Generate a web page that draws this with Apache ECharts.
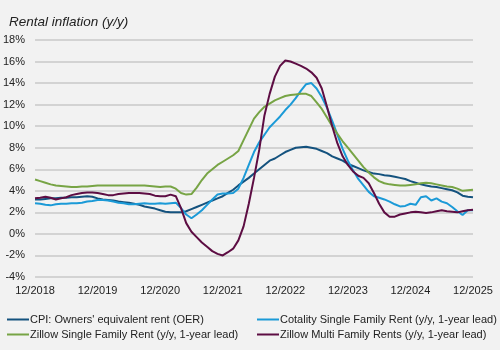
<!DOCTYPE html>
<html>
<head>
<meta charset="utf-8">
<script src="https://cdn.jsdelivr.net/npm/echarts@6/dist/echarts.min.js"></script>
<style>
html,body{margin:0;padding:0;background:#f2f2f2;}
#chart{width:500px;height:350px;}
</style>
</head>
<body>
<div id="chart"></div>
<script>
// Monthly, 12/2018 .. 12/2025
const startYear = 2018, startMonth = 12, nMonths = 85;
const tickLabels = ['12/2018','12/2019','12/2020','12/2021','12/2022','12/2023','12/2024','12/2025'];

const oer = [
 3.2,3.2,3.25,3.3,3.3,3.35,3.35,3.4,3.4,3.45,3.5,3.45,3.3,
 3.2,3.15,3.1,3.0,2.95,2.9,2.8,2.7,2.55,2.45,2.35,2.2,
 2.05,2.0,2.0,2.0,2.1,2.3,2.5,2.7,2.9,3.1,3.3,3.5,
 3.8,4.1,4.5,4.85,5.2,5.6,6.0,6.4,6.8,7.0,7.3,7.6,
 7.8,8.0,8.05,8.1,8.0,7.9,7.7,7.5,7.2,7.0,6.8,6.5,
 6.3,6.1,5.9,5.75,5.6,5.55,5.45,5.4,5.3,5.2,5.1,4.9,
 4.75,4.6,4.5,4.4,4.35,4.25,4.15,4.05,3.85,3.55,3.45,3.4
];
const cotality = [
 2.85,2.8,2.7,2.65,2.75,2.8,2.8,2.85,2.85,2.9,3.0,3.05,3.15,
 3.15,3.1,3.0,2.9,2.85,2.75,2.75,2.8,2.85,2.8,2.8,2.85,
 2.8,2.85,2.9,2.4,1.8,1.45,1.8,2.2,2.7,3.2,3.65,3.75,
 3.75,3.8,4.2,5.2,6.4,7.6,8.5,9.2,9.9,10.4,10.9,11.5,
 12.0,12.6,13.3,13.9,14.0,13.5,12.7,11.7,10.5,9.2,7.9,6.8,
 5.9,5.1,4.5,3.9,3.5,3.35,3.2,3.0,2.75,2.55,2.6,2.8,
 2.7,3.4,3.5,3.1,3.3,3.0,2.85,2.5,2.1,1.75,2.2,2.2
];
const zillowSF = [
 5.05,4.9,4.75,4.6,4.5,4.45,4.4,4.35,4.35,4.4,4.4,4.45,4.5,
 4.5,4.5,4.5,4.5,4.5,4.5,4.5,4.5,4.5,4.45,4.4,4.35,
 4.4,4.4,4.2,3.8,3.65,3.7,4.3,5.0,5.6,6.0,6.4,6.7,
 7.0,7.3,7.7,8.7,9.7,10.7,11.3,11.8,12.1,12.4,12.6,12.8,
 12.9,12.95,13.0,13.0,12.8,12.2,11.6,10.8,10.0,9.3,8.6,8.0,
 7.4,6.8,6.2,5.7,5.25,4.9,4.7,4.6,4.55,4.5,4.5,4.55,
 4.6,4.7,4.75,4.7,4.6,4.5,4.4,4.35,4.2,4.0,4.05,4.1
];
const zillowMF = [
 3.3,3.35,3.45,3.35,3.2,3.3,3.4,3.6,3.7,3.8,3.85,3.85,3.8,
 3.7,3.6,3.6,3.7,3.75,3.8,3.8,3.8,3.75,3.7,3.55,3.5,
 3.5,3.65,3.5,2.4,1.0,0.2,-0.3,-0.8,-1.2,-1.6,-1.85,-2.0,
 -1.7,-1.37,-0.6,0.7,2.8,5.2,7.8,11.0,13.0,14.6,15.6,16.1,
 16.0,15.8,15.6,15.35,15.0,14.5,13.5,11.8,10.0,8.4,7.2,6.4,
 5.8,5.4,5.2,4.7,3.8,2.8,2.0,1.6,1.6,1.8,1.9,2.0,
 2.05,2.0,1.95,2.0,2.1,2.2,2.1,2.05,2.0,2.1,2.2,2.25
];
const seriesNames = [
 "CPI: Owners' equivalent rent (OER)",
 "Cotality Single Family Rent (y/y, 1-year lead)",
 "Zillow Single Family Rent (y/y, 1-year lead)",
 "Zillow Multi Family Rents (y/y, 1-year lead)"
];
const colors = ['#14527e','#1b9ad7','#77a445','#5d0d43'];

const categories = [];
for (let i = 0; i < nMonths; i++) {
  const m = ((startMonth - 1 + i) % 12) + 1;
  const y = startYear + Math.floor((startMonth - 1 + i) / 12);
  categories.push(m + '/' + y);
}
const values = [oer, cotality, zillowSF, zillowMF];

const font = 'Liberation Sans, Arial, sans-serif';
const legendBase = {
  orient: 'vertical', top: 309, itemGap: 4,
  itemWidth: 22, itemHeight: 2, icon: 'rect',
  itemStyle: {borderWidth: 0},
  textStyle: {fontFamily: font, fontSize: 11, color: '#222', padding: [0,0,0,-4]}
};
const chart = echarts.init(document.getElementById('chart'), null, {renderer:'canvas'});
chart.setOption({
  backgroundColor: '#f2f2f2',
  animation: false,
  title: {
    text: 'Rental inflation (y/y)',
    left: 4, top: 10,
    textStyle: {fontFamily: font, fontSize: 13.5, fontStyle: 'italic', fontWeight: 'normal', color: '#222'}
  },
  grid: {left: 35, right: 27, top: 40, bottom: 73, containLabel: false},
  legend: [
    Object.assign({}, legendBase, {data: [seriesNames[0], seriesNames[2]], left: 2}),
    Object.assign({}, legendBase, {data: [seriesNames[1], seriesNames[3]], left: 252})
  ],
  xAxis: {
    type: 'category',
    data: categories,
    boundaryGap: false,
    axisLine: {show: false},
    axisTick: {show: false},
    splitLine: {show: false},
    axisLabel: {
      interval: 11, margin: 8,
      fontFamily: font, fontSize: 11, color: '#222',
      formatter: v => tickLabels.indexOf(v) >= 0 ? v : ''
    }
  },
  yAxis: {
    type: 'value', min: -4, max: 18, interval: 2,
    axisLine: {show: false}, axisTick: {show: false},
    splitLine: {lineStyle: {color: '#c9c9c9', width: 1.5}},
    axisLabel: {formatter: '{value}%', margin: 10, fontFamily: font, fontSize: 11, color: '#222'}
  },
  series: values.map((d, i) => ({
    name: seriesNames[i],
    type: 'line',
    data: d,
    showSymbol: false,
    symbol: 'none',
    lineStyle: {width: 2, color: colors[i]},
    itemStyle: {color: colors[i]},
    z: 2 + i
  }))
});
</script>
</body>
</html>
